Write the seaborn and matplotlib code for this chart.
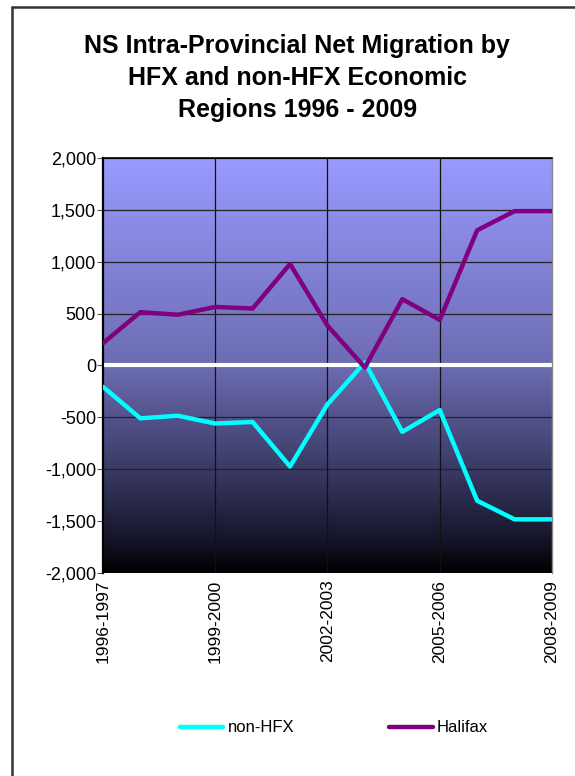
import numpy as np
import pandas as pd
import matplotlib
matplotlib.use("Agg")
import matplotlib.pyplot as plt
from matplotlib.colors import LinearSegmentedColormap
from matplotlib.lines import Line2D
import seaborn as sns

periods = ["1996-1997", "1997-1998", "1998-1999", "1999-2000", "2000-2001",
           "2001-2002", "2002-2003", "2003-2004", "2004-2005", "2005-2006",
           "2006-2007", "2007-2008", "2008-2009"]
halifax = [215, 515, 490, 565, 550, 980, 385, -20, 640, 440, 1305, 1490, 1490]
non_hfx = [-205, -510, -485, -560, -545, -975, -375, 30, -640, -430, -1305, -1485, -1485]
tick_labels = ["1996-1997", "1999-2000", "2002-2003", "2005-2006", "2008-2009"]

sns.set_theme(style="white")
plt.rcParams['font.family'] = ['Liberation Sans', 'DejaVu Sans']
plt.rcParams['text.color'] = 'black'
plt.rcParams['xtick.color'] = 'black'
plt.rcParams['ytick.color'] = 'black'

df = pd.DataFrame({
    "idx": list(range(len(periods))) * 2,
    "value": non_hfx + halifax,
    "serie": ["non-HFX"] * len(periods) + ["Halifax"] * len(periods),
})

fig = plt.figure(figsize=(5.75, 7.76), dpi=100)
ax = fig.add_axes([0.179, 0.262, 0.781, 0.534])

# fondo degradado (azul lila arriba, negro abajo)
cmap = LinearSegmentedColormap.from_list(
    "fondo", [(0, "#000000"), (0.08, "#15152a"), (0.25, "#3a3a66"),
              (0.5, "#6c6cb2"), (1, "#9a9aff")])
grad = np.linspace(0, 1, 256).reshape(-1, 1)
ax.imshow(grad, aspect="auto", cmap=cmap, origin="lower",
          extent=[0, 12, -2000, 2000], zorder=0)

ax.set_xlim(0, 12)
ax.set_ylim(-2000, 2000)

for y in range(-1500, 2001, 500):
    ax.axhline(y, color="#222222", lw=0.9, zorder=1)
for x in [3, 6, 9]:
    ax.axvline(x, color="#111111", lw=0.9, zorder=1)
ax.axhline(0, color="white", lw=3, zorder=2)

sns.lineplot(data=df, x="idx", y="value", hue="serie",
             palette={"non-HFX": "#00ffff", "Halifax": "#800080"},
             hue_order=["non-HFX", "Halifax"], lw=3.2, ax=ax, zorder=3,
             legend=False)

ax.set_yticks(range(-2000, 2001, 500))
ax.set_yticklabels([f"{v:,}" for v in range(-2000, 2001, 500)], fontsize=13)
ax.set_xticks([0, 3, 6, 9, 12])
ax.set_xticklabels(tick_labels, rotation=90, fontsize=12.5)
ax.tick_params(axis="y", length=4, width=0.8, color="#555555", direction="out", left=True, pad=1)
ax.tick_params(axis="x", length=0, pad=5)
ax.set_xlabel("")
ax.set_ylabel("")

ax.spines["bottom"].set_visible(False)
ax.spines["left"].set_color("black")
ax.spines["left"].set_linewidth(1.6)
ax.spines["top"].set_color("black")
ax.spines["top"].set_linewidth(1.2)
ax.spines["right"].set_color("#888888")
ax.spines["right"].set_linewidth(1.0)

fig.text(0.517, 0.899, "NS Intra-Provincial Net Migration by\nHFX and non-HFX Economic\nRegions 1996 - 2009",
         ha="center", va="center", fontsize=18, fontweight="bold", linespacing=1.42,
         color="black")

handles = [Line2D([], [], color="#00ffff", lw=3.2), Line2D([], [], color="#800080", lw=3.2)]
fig.legend(handles, ["non-HFX", "Halifax"], loc="center", bbox_to_anchor=(0.581, 0.062),
           ncol=2, frameon=False, fontsize=12, handlelength=2.6, handletextpad=0.25,
           columnspacing=5.7)

# marco de la figura (solo arriba e izquierda visibles)
fig.add_artist(Line2D([12 / 575, 1], [1 - 7 / 776, 1 - 7 / 776], color="#333333", lw=1.8,
                      transform=fig.transFigure))
fig.add_artist(Line2D([12 / 575, 12 / 575], [0, 1 - 7 / 776], color="#333333", lw=1.8,
                      transform=fig.transFigure))

fig.savefig("out.png", dpi=100)
